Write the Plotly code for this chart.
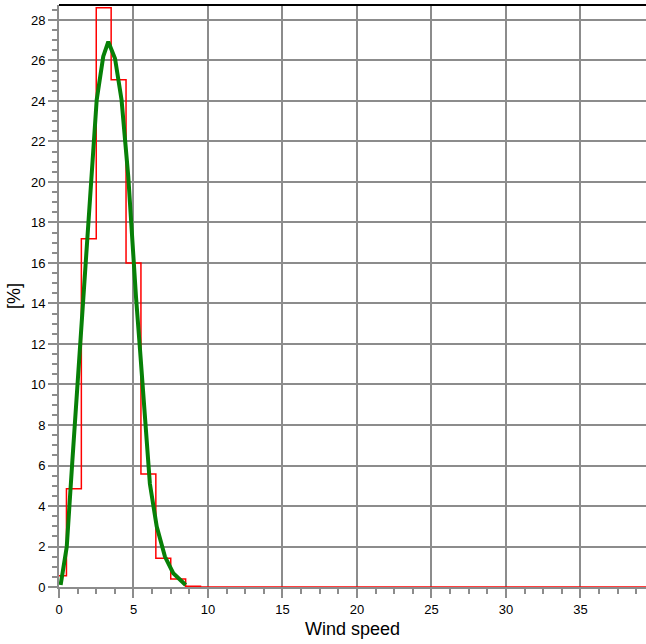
import plotly.graph_objects as go

# Histogram (bins centred on integer wind speeds), percent
bin_centers = list(range(0, 41))
bin_percent = [0.56, 4.85, 17.2, 28.6, 25.05, 16.0, 5.58, 1.42, 0.4, 0.04] + [0.0] * 31

# Fitted distribution curve
curve_x = [0.11, 0.52, 0.9, 1.36, 1.75, 2.08, 2.53, 2.97, 3.31, 3.76, 4.2, 4.65,
           4.88, 5.17, 5.44, 5.66, 5.77, 6.1, 6.56, 7.11, 7.67, 8.5]
curve_y = [0.1, 1.99, 6.27, 11.37, 16.0, 19.1, 24.05, 26.2, 26.93, 26.1, 24.05, 20.26,
           17.46, 14.3, 11.7, 9.4, 7.9, 5.1, 2.98, 1.5, 0.68, 0.1]

x_ticks = [0, 5, 10, 15, 20, 25, 30, 35]
y_ticks = list(range(0, 29, 2))

grid_color = "#8c8c8c"
font = "Liberation Sans, Arial, sans-serif"

fig = go.Figure()
fig.add_trace(go.Scatter(x=bin_centers, y=bin_percent, mode="lines",
                         line=dict(color="#ff0000", width=1.5, shape="hvh"),
                         showlegend=False, hoverinfo="skip", cliponaxis=True))
fig.add_trace(go.Scatter(x=curve_x, y=curve_y, mode="lines",
                         line=dict(color="#078007", width=4),
                         showlegend=False, hoverinfo="skip"))

fig.update_layout(
    width=646, height=644,
    margin=dict(l=59, r=0, t=5, b=57),
    plot_bgcolor="white", paper_bgcolor="white",
    font=dict(family=font, size=13, color="black"),
    xaxis=dict(range=[0, 39.4], tickvals=x_ticks, ticktext=[str(v) for v in x_ticks],
               showgrid=True, gridcolor=grid_color, gridwidth=2,
               showline=True, linecolor=grid_color, linewidth=2,
               ticks="outside", ticklen=9, tickwidth=2, tickcolor=grid_color,
               minor=dict(dtick=1.25, tick0=0, ticks="outside", ticklen=5,
                          tickwidth=2, tickcolor=grid_color, showgrid=False),
               title=dict(text="Wind speed", font=dict(size=18), standoff=7),
               zeroline=False, fixedrange=True),
    yaxis=dict(range=[0, 28.74], tickvals=y_ticks, ticktext=[str(v) for v in y_ticks],
               showgrid=True, gridcolor=grid_color, gridwidth=2,
               showline=True, linecolor=grid_color, linewidth=2,
               ticks="outside", ticklen=9, tickwidth=2, tickcolor=grid_color,
               minor=dict(dtick=0.5, tick0=0, ticks="outside", ticklen=5,
                          tickwidth=2, tickcolor=grid_color, showgrid=False),
               title=dict(text="[%]", font=dict(size=18), standoff=6),
               zeroline=False, fixedrange=True),
    shapes=[dict(type="line", xref="paper", yref="paper", x0=0, x1=1, y0=1, y1=1,
                 line=dict(color="black", width=2))],
)

fig.write_html("out.html", config={"displayModeBar": False},
               post_script="document.body.style.margin='0';document.body.style.overflow='hidden';")
